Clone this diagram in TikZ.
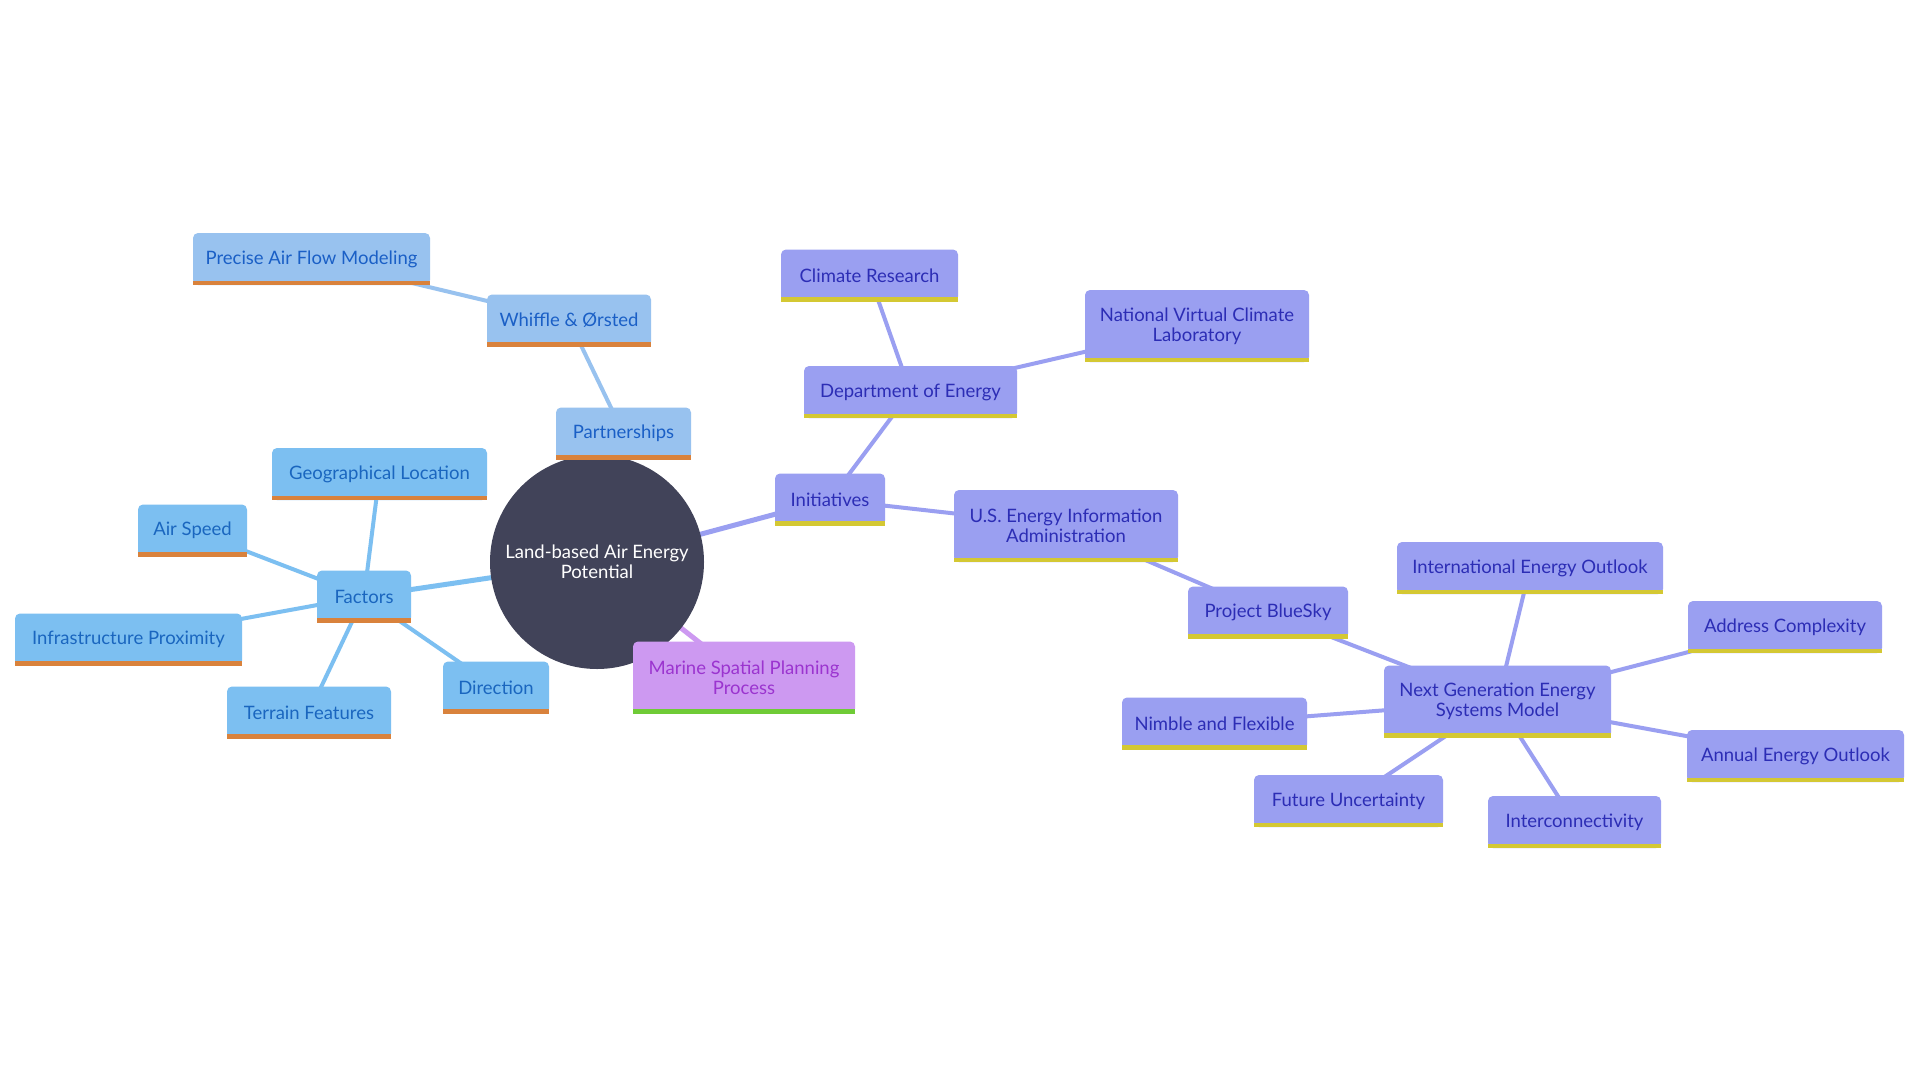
\documentclass[tikz,border=0pt]{standalone}
\usepackage{fontspec}
\setmainfont{Lato}
\pgfdeclarelayer{bg}
\pgfsetlayers{bg,main}
\definecolor{facfill}{HTML}{7CBFF1}
\definecolor{facline}{HTML}{7CBFF1}
\definecolor{factext}{HTML}{1A66BF}
\definecolor{partfill}{HTML}{98C2EF}
\definecolor{parttext}{HTML}{1A5FC6}
\definecolor{inifill}{HTML}{9A9FF1}
\definecolor{initext}{HTML}{2C2DB5}
\definecolor{marfill}{HTML}{CD99F1}
\definecolor{martext}{HTML}{9B34CF}
\definecolor{orangestripe}{HTML}{D9823C}
\definecolor{yellowstripe}{HTML}{D4C833}
\definecolor{greenstripe}{HTML}{6FCB36}
\definecolor{rootfill}{HTML}{414359}
\tikzset{
  x=1pt,y=-1pt,
  mbox/.style={rectangle, rounded corners=5pt, minimum height=52pt, inner sep=0pt,
    font=\fontsize{18.5}{20}\selectfont, align=center},
  facbox/.style={mbox, fill=facfill, text=factext},
  partbox/.style={mbox, fill=partfill, text=parttext},
  inibox/.style={mbox, fill=inifill, text=initext},
  marbox/.style={mbox, fill=marfill, text=martext},
  facedge/.style={draw=facline, line width=4pt},
  partedge/.style={draw=partfill, line width=4pt},
  iniedge/.style={draw=inifill, line width=4pt},
  maredge/.style={draw=marfill, line width=4pt},
  two/.style={minimum height=72pt},
}
\begin{document}
\begin{tikzpicture}
\useasboundingbox (0,0) rectangle (1920,1080);
% root
\node[circle, fill=rootfill, minimum size=214pt, inner sep=0pt, text=white, align=center, font=\fontsize{18.5}{20}\selectfont] (root) at (597,562) {Land-based Air Energy\\Potential};
% factors
\node[facbox, minimum width=94pt] (fac) at (364,596.5) {Factors};
\node[facbox, minimum width=215pt] (geo) at (379.5,474) {Geographical Location};
\node[facbox, minimum width=109pt] (air) at (192.5,530.5) {Air Speed};
\node[facbox, minimum width=227pt] (infra) at (128.5,639.5) {Infrastructure Proximity};
\node[facbox, minimum width=164pt] (terr) at (309,712.5) {Terrain Features};
\node[facbox, minimum width=106pt] (dir) at (496,687.5) {Direction};
% partnerships
\node[partbox, minimum width=135pt] (part) at (623.5,433.5) {Partnerships};
\node[partbox, minimum width=164pt] (whif) at (569,320.5) {Whiffle \& Ørsted};
\node[partbox, minimum width=237pt] (prec) at (311.5,259) {Precise Air Flow Modeling};
% marine
\node[marbox, two, minimum width=222pt] (mar) at (744,677.5) {Marine Spatial Planning\\Process};
% initiatives
\node[inibox, minimum width=110pt] (init) at (830,499.5) {Initiatives};
\node[inibox, minimum width=177pt] (clim) at (869.5,275.5) {Climate Research};
\node[inibox, minimum width=213pt] (doe) at (910.5,392) {Department of Energy};
\node[inibox, two, minimum width=224pt] (nvcl) at (1197,326) {National Virtual Climate\\Laboratory};
\node[inibox, two, minimum width=224pt] (eia) at (1066,526) {U.S. Energy Information\\Administration};
\node[inibox, minimum width=160pt] (blue) at (1268,612.5) {Project BlueSky};
\node[inibox, two, minimum width=227pt] (ngesm) at (1497.5,701.5) {Next Generation Energy\\Systems Model};
\node[inibox, minimum width=266pt] (ieo) at (1530,568) {International Energy Outlook};
\node[inibox, minimum width=194pt] (addr) at (1785,627) {Address Complexity};
\node[inibox, minimum width=185pt] (nimb) at (1214.5,723.5) {Nimble and Flexible};
\node[inibox, minimum width=217pt] (annu) at (1795.5,756) {Annual Energy Outlook};
\node[inibox, minimum width=189pt] (fut) at (1348.5,801) {Future Uncertainty};
\node[inibox, minimum width=173pt] (inter) at (1574.5,822) {Interconnectivity};
% bottom stripes
\foreach \n/\c in {fac/orangestripe, geo/orangestripe, air/orangestripe, infra/orangestripe,
  terr/orangestripe, dir/orangestripe, part/orangestripe, whif/orangestripe, prec/orangestripe,
  mar/greenstripe, init/yellowstripe, clim/yellowstripe, doe/yellowstripe, nvcl/yellowstripe,
  eia/yellowstripe, blue/yellowstripe, ngesm/yellowstripe, ieo/yellowstripe, addr/yellowstripe,
  nimb/yellowstripe, annu/yellowstripe, fut/yellowstripe, inter/yellowstripe}
  \fill[\c] (\n.south west) rectangle ([yshift=4.5pt]\n.south east);
% edges
\begin{pgfonlayer}{bg}
\fill[white] (0,0) rectangle (1920,1080);
\draw[facedge, line width=5pt] (root.center) -- (fac.center);
\draw[facedge] (fac.center) -- (geo.center);
\draw[facedge] (fac.center) -- (air.center);
\draw[facedge] (fac.center) -- (infra.center);
\draw[facedge] (fac.center) -- (terr.center);
\draw[facedge] (fac.center) -- (dir.center);
\draw[partedge, line width=5pt] (root.center) -- (part.center);
\draw[partedge] (part.center) -- (whif.center);
\draw[partedge] (whif.center) -- (prec.center);
\draw[maredge, line width=5pt] (root.center) -- (mar.center);
\draw[iniedge, line width=5pt] (root.center) -- (init.center);
\draw[iniedge] (init.center) -- (doe.center);
\draw[iniedge] (doe.center) -- (clim.center);
\draw[iniedge] (doe.center) -- (nvcl.center);
\draw[iniedge] (init.center) -- (eia.center);
\draw[iniedge] (eia.center) -- (blue.center);
\draw[iniedge] (blue.center) -- (ngesm.center);
\draw[iniedge] (ngesm.center) -- (ieo.center);
\draw[iniedge] (ngesm.center) -- (addr.center);
\draw[iniedge] (ngesm.center) -- (nimb.center);
\draw[iniedge] (ngesm.center) -- (annu.center);
\draw[iniedge] (ngesm.center) -- (fut.center);
\draw[iniedge] (ngesm.center) -- (inter.center);
\end{pgfonlayer}
\end{tikzpicture}
\end{document}
